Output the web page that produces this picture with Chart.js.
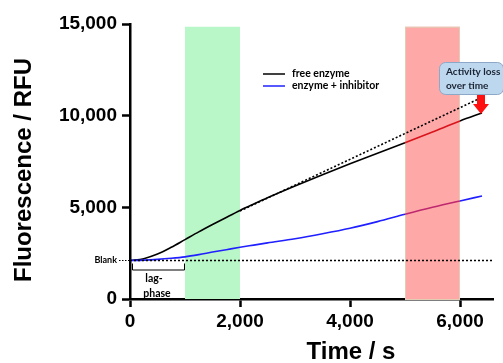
<!DOCTYPE html>
<html>
<head>
<meta charset="utf-8">
<script src="https://cdn.jsdelivr.net/npm/chart.js@4"></script>
<style>
  html, body { margin: 0; padding: 0; background: #fff; }
  #wrap { width: 503px; height: 363px; position: relative; }
</style>
</head>
<body>
<div id="wrap"><canvas id="kineticsCanvas"></canvas></div>
<script>
// time points (s) and fluorescence readings (RFU)
const times = [0, 250, 500, 750, 1000, 1250, 1500, 1750, 2000, 2250, 2500, 3000, 3500, 4000, 4500, 5000, 5500, 6000, 6400];
const freeEnzyme = [2100, 2200, 2450, 2820, 3240, 3660, 4060, 4450, 4830, 5180, 5520, 6160, 6780, 7380, 7950, 8520, 9110, 9710, 10150];
const enzymeInhibitor = [2100, 2120, 2160, 2220, 2300, 2420, 2560, 2690, 2820, 2940, 3060, 3290, 3560, 3860, 4220, 4620, 5000, 5350, 5620];
const fitTimes = [2000, 6400];
const fitValues = [4800, 11000];
const blankTimes = [0, 6600];
const blankValues = [2100, 2100];
const xTicks = [0, 2000, 4000, 6000];
const yTicks = [0, 5000, 10000, 15000];
const linearPhase = [1000, 2000];
const lossPhase = [5000, 6000];

const toPoints = (xs, ys) => xs.map((x, i) => ({ x: x, y: ys[i] }));
const inLoss = c => c.p0.parsed.x >= lossPhase[0] && c.p1.parsed.x <= lossPhase[1];

const decorations = {
  id: "decorations",
  beforeDatasetsDraw(chart) {
    const { ctx, scales: { x, y } } = chart;
    const top = y.getPixelForValue(14850);
    const bottom = y.getPixelForValue(0);
    ctx.save();
    ctx.fillStyle = "rgb(186,247,200)";
    ctx.fillRect(x.getPixelForValue(linearPhase[0]), top, x.getPixelForValue(linearPhase[1]) - x.getPixelForValue(linearPhase[0]), bottom - top);
    ctx.fillStyle = "rgb(255,168,168)";
    const rx = x.getPixelForValue(lossPhase[0]), rw = x.getPixelForValue(lossPhase[1]) - rx;
    ctx.fillRect(rx, top, rw, bottom - top);
    ctx.strokeStyle = "rgb(226,204,180)";
    ctx.lineWidth = 1;
    ctx.strokeRect(rx + 0.5, top + 0.5, rw - 1, bottom - top);
    ctx.restore();
  },
  afterDraw(chart) {
    const { ctx, scales: { x, y } } = chart;
    ctx.save();
    ctx.fillStyle = "#000";

    // axis titles
    ctx.font = "bold 24px 'Liberation Sans', Arial, sans-serif";
    ctx.textAlign = "center";
    ctx.textBaseline = "middle";
    ctx.fillText("Time / s", 351, 352);
    ctx.save();
    ctx.translate(24, 170);
    ctx.rotate(-Math.PI / 2);
    ctx.fillText("Fluorescence / RFU", 0, 0);
    ctx.restore();

    // legend
    ctx.lineWidth = 1.5;
    ctx.strokeStyle = "#000";
    ctx.beginPath(); ctx.moveTo(263, 74); ctx.lineTo(285, 74); ctx.stroke();
    ctx.strokeStyle = "#2020ff";
    ctx.beginPath(); ctx.moveTo(263, 86); ctx.lineTo(285, 86); ctx.stroke();
    ctx.font = "bold 10.5px Lato, sans-serif";
    ctx.textAlign = "left";
    ctx.fillText("free enzyme", 292, 74);
    ctx.fillText("enzyme + inhibitor", 292, 86);

    // blank label
    const by = y.getPixelForValue(blankValues[0]);
    ctx.font = "bold 9px Lato, sans-serif";
    ctx.textAlign = "right";
    ctx.fillText("Blank", 117, by);
    ctx.setLineDash([1.5, 1.5]);
    ctx.strokeStyle = "#000";
    ctx.lineWidth = 1.2;
    ctx.beginPath(); ctx.moveTo(119, by); ctx.lineTo(130, by); ctx.stroke();
    ctx.setLineDash([]);

    // lag-phase bracket
    const lx0 = x.getPixelForValue(0) + 2, lx1 = x.getPixelForValue(1000);
    ctx.lineWidth = 1;
    ctx.beginPath();
    ctx.moveTo(lx0 + 0.5, by + 3); ctx.lineTo(lx0 + 0.5, by + 9.5);
    ctx.lineTo(lx1 - 0.5, by + 9.5); ctx.lineTo(lx1 - 0.5, by + 3);
    ctx.stroke();
    ctx.font = "bold 10.5px Lato, sans-serif";
    ctx.textAlign = "center";
    ctx.fillText("lag-", 154, by + 18);
    ctx.fillText("phase", 157, by + 33);

    // activity loss call-out
    ctx.fillStyle = "rgb(189,215,238)";
    ctx.strokeStyle = "rgb(140,168,200)";
    ctx.lineWidth = 1;
    ctx.beginPath();
    ctx.roundRect(439.5, 62.5, 64, 32, 6);
    ctx.fill(); ctx.stroke();
    ctx.fillStyle = "#1a2433";
    ctx.font = "bold 10px Lato, sans-serif";
    ctx.textAlign = "left";
    ctx.fillText("Activity loss", 446, 72);
    ctx.fillText("over time", 446, 86);

    // red arrow
    ctx.fillStyle = "#ff1010";
    ctx.beginPath();
    ctx.moveTo(477, 95); ctx.lineTo(485, 95); ctx.lineTo(485, 104);
    ctx.lineTo(489, 104); ctx.lineTo(481, 114); ctx.lineTo(473, 104);
    ctx.lineTo(477, 104); ctx.closePath();
    ctx.fill();
    ctx.restore();
  }
};

const ctx = document.getElementById("kineticsCanvas").getContext("2d");

const axisFont = { family: "'Liberation Sans', Arial, sans-serif", size: 19, weight: "bold" };

new Chart(ctx, {
  type: "line",
  data: {
    datasets: [
      {
        label: "blank",
        data: toPoints(blankTimes, blankValues),
        borderColor: "#000",
        borderWidth: 1.3,
        borderDash: [2, 2],
        pointRadius: 0
      },
      {
        label: "linear fit",
        data: toPoints(fitTimes, fitValues),
        borderColor: "#000",
        borderWidth: 1.6,
        borderDash: [2, 2],
        pointRadius: 0
      },
      {
        label: "enzyme + inhibitor",
        data: toPoints(times, enzymeInhibitor),
        borderColor: "#1f1fff",
        borderWidth: 1.6,
        pointRadius: 0,
        cubicInterpolationMode: "monotone",
        segment: { borderColor: c => inLoss(c) ? "rgb(190,40,110)" : undefined }
      },
      {
        label: "free enzyme",
        data: toPoints(times, freeEnzyme),
        borderColor: "#000",
        borderWidth: 1.6,
        pointRadius: 0,
        cubicInterpolationMode: "monotone",
        segment: { borderColor: c => inLoss(c) ? "#d8141c" : undefined }
      }
    ]
  },
  options: {
    responsive: true,
    maintainAspectRatio: false,
    animation: false,
    layout: { padding: { top: 24, right: 10, left: 0, bottom: 0 } },
    plugins: { legend: { display: false }, tooltip: { enabled: false } },
    scales: {
      x: {
        type: "linear",
        min: 0,
        max: 6600,
        afterBuildTicks: s => { s.ticks = xTicks.map(v => ({ value: v })); },
        afterFit: s => { s.height = 64; },
        border: { display: true, color: "#000", width: 2.5 },
        grid: { drawOnChartArea: false, drawTicks: true, tickLength: 8, tickColor: "#000", tickWidth: 2.5 },
        ticks: { color: "#000", font: axisFont, padding: 3, maxRotation: 0, callback: v => v.toLocaleString("en-US") }
      },
      y: {
        min: 0,
        max: 15000,
        afterBuildTicks: s => { s.ticks = yTicks.map(v => ({ value: v })); },
        afterFit: s => { s.width = 130; },
        border: { display: true, color: "#000", width: 2.5 },
        grid: { drawOnChartArea: false, drawTicks: true, tickLength: 8, tickColor: "#000", tickWidth: 2.5 },
        ticks: { color: "#000", font: axisFont, padding: 5, callback: v => v.toLocaleString("en-US") }
      }
    }
  },
  plugins: [decorations]
});
</script>
</body>
</html>
